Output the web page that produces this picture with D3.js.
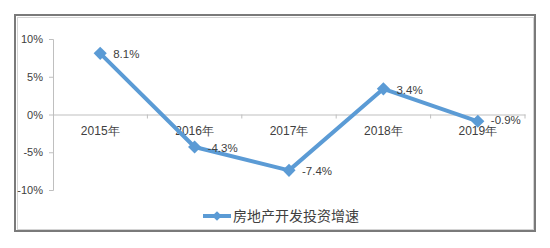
<!DOCTYPE html>
<html>
<head>
<meta charset="utf-8">
<script src="https://cdn.jsdelivr.net/npm/d3@7"></script>
<style>
  html, body { margin: 0; padding: 0; background: #fff; }
  svg { display: block; font-family: "Liberation Sans", "Noto Sans CJK SC", sans-serif; }
</style>
</head>
<body>
<div id="chart"></div>
<script>
  const years = ["2015年", "2016年", "2017年", "2018年", "2019年"];
  const growth = [8.1, -4.3, -7.4, 3.4, -0.9];
  const yTicks = [10, 5, 0, -5, -10];
  const seriesName = "房地产开发投资增速";

  const width = 550;
  const height = 248;
  const blue = "#5b9bd5";
  const textColor = "#404040";

  const svg = d3.select("#chart")
    .append("svg")
    .attr("width", width)
    .attr("height", height);

  // frame with a soft shadow edge
  svg.append("rect")
    .attr("x", 15).attr("y", 15)
    .attr("width", 520).attr("height", 216)
    .attr("fill", "#fff")
    .attr("stroke", "#7a7a7a")
    .attr("stroke-width", 2);
  svg.append("rect")
    .attr("x", 17.5).attr("y", 17.5)
    .attr("width", 516).attr("height", 212)
    .attr("fill", "none")
    .attr("stroke", "#d4d4d4")
    .attr("stroke-width", 1);

  const x = d3.scaleBand().domain(years).range([53, 525]);
  const y = d3.scaleLinear().domain([-10, 10]).range([190, 39]);

  // y axis
  const yAxis = svg.append("g")
    .attr("transform", "translate(53,0)")
    .call(d3.axisLeft(y).tickValues(yTicks).tickSize(4).tickFormat((d) => d + "%"));
  yAxis.select(".domain").attr("stroke", "#bfbfbf");
  yAxis.selectAll(".tick line").attr("stroke", "#bfbfbf");
  yAxis.selectAll(".tick text")
    .attr("x", -10)
    .attr("fill", textColor)
    .attr("font-size", 11);

  // zero line with category ticks
  const xAxis = svg.append("g")
    .attr("transform", `translate(0,${y(0)})`)
    .call(d3.axisBottom(x).tickSize(0).tickPadding(12));
  xAxis.select(".domain").attr("stroke", "#bfbfbf");
  xAxis.selectAll(".tick text")
    .attr("fill", textColor)
    .attr("font-size", 12);
  svg.append("g")
    .selectAll("line")
    .data(years.slice(1).concat([null]))
    .join("line")
    .attr("x1", (d, i) => x(years[i]) + x.bandwidth())
    .attr("x2", (d, i) => x(years[i]) + x.bandwidth())
    .attr("y1", y(0))
    .attr("y2", y(0) + 4)
    .attr("stroke", "#bfbfbf");

  const points = years.map((yr, i) => ({ year: yr, value: growth[i] }));
  const cx = (d) => x(d.year) + x.bandwidth() / 2;

  svg.append("path")
    .datum(points)
    .attr("fill", "none")
    .attr("stroke", blue)
    .attr("stroke-width", 4)
    .attr("stroke-linejoin", "round")
    .attr("d", d3.line().x(cx).y((d) => y(d.value)));

  const diamond = d3.symbol().type(d3.symbolDiamond2).size(110);
  svg.append("g")
    .selectAll("path")
    .data(points)
    .join("path")
    .attr("transform", (d) => `translate(${cx(d)},${y(d.value)})`)
    .attr("d", diamond)
    .attr("fill", blue);

  svg.append("g")
    .selectAll("text")
    .data(points)
    .join("text")
    .attr("x", (d) => cx(d) + 13)
    .attr("y", (d) => y(d.value) + (d.value === -0.9 ? -1 : 1))
    .attr("dy", "0.35em")
    .attr("fill", textColor)
    .attr("font-size", 11.5)
    .text((d) => d.value.toFixed(1) + "%");

  // legend
  const legend = svg.append("g").attr("transform", "translate(203,216)");
  legend.append("line")
    .attr("x1", 0).attr("x2", 28)
    .attr("stroke", blue)
    .attr("stroke-width", 4);
  legend.append("path")
    .attr("transform", "translate(14,0)")
    .attr("d", d3.symbol().type(d3.symbolDiamond2).size(60))
    .attr("fill", blue);
  legend.append("text")
    .attr("x", 30)
    .attr("dy", "0.35em")
    .attr("fill", textColor)
    .attr("font-size", 14)
    .attr("font-family", "Noto Sans CJK SC")
    .text(seriesName);
</script>
</body>
</html>
